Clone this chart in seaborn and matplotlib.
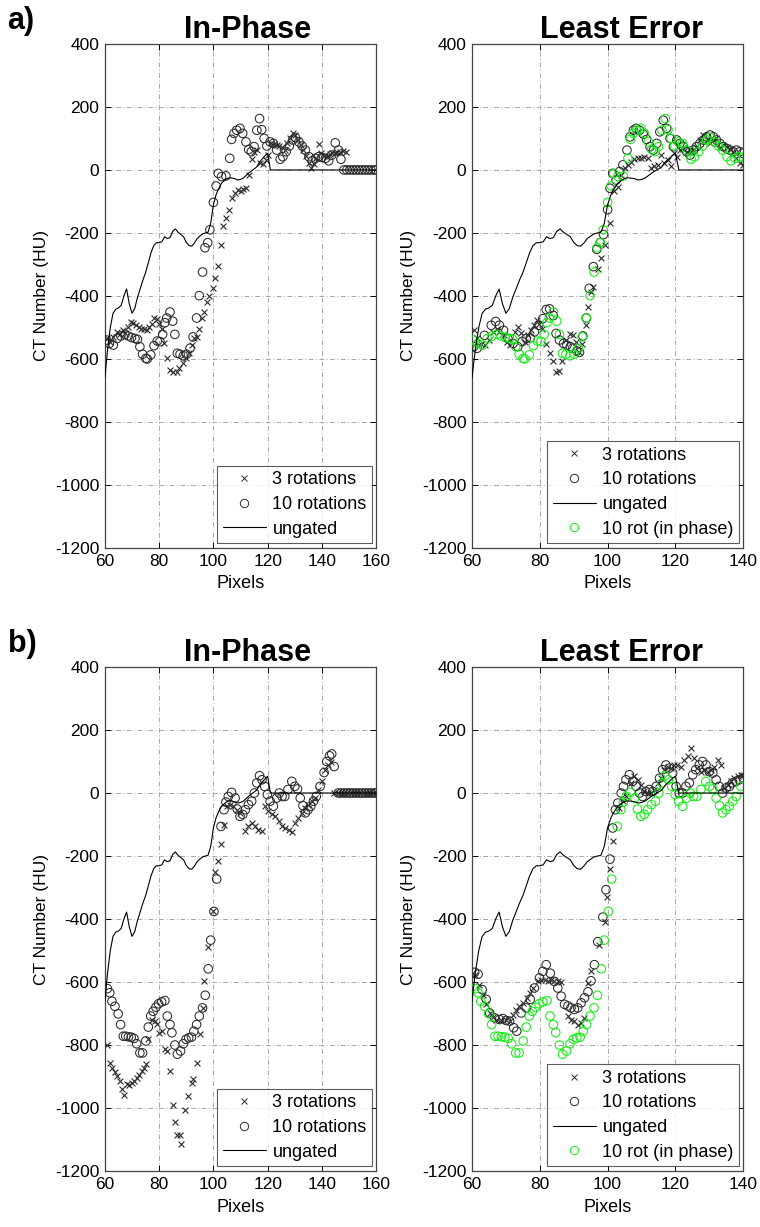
import matplotlib
matplotlib.use("Agg")
import matplotlib.pyplot as plt
import seaborn as sns
from matplotlib.lines import Line2D

sns.set_style("ticks")
plt.rcParams['font.family'] = ['Liberation Sans', 'DejaVu Sans']
plt.rcParams['axes.unicode_minus'] = False
plt.rcParams['text.color'] = 'black'
plt.rcParams['axes.labelcolor'] = 'black'
plt.rcParams['xtick.color'] = 'black'
plt.rcParams['ytick.color'] = 'black'

# ---------------- ungated reference line (shared) ----------------
ung_x = list(range(60, 161))
ung_y = [-660, -570, -500, -455, -442, -438, -430, -400, -378, -425,
         -455, -440, -405, -378, -350, -326, -295, -263, -240, -231,
         -231, -228, -212, -218, -215, -195, -187, -198, -205, -212,
         -230, -240, -242, -232, -218, -210, -203, -200, -198, -170,
         -110, -78, -58, -42, -34, -27, -25, -26, -28, -32,
         -30, -26, -18, -10, -3, 3, 10, 25, 35, 45,
         53, 0, 0, 0, 0, 0, 0, 0, 0, 0,
         0, 0, 0, 0, 0, 0, 0, 0, 0, 0,
         0, 0, 0, 0, 0, 0, 0, 0, 0, 0,
         0, 0, 0, 0, 0, 0, 0, 0, 0, 0,
         0]

# ---------------- a) In-Phase ----------------
aL_x3 = [60.6, 61.8, 63.1, 64.3, 65.5, 66.5, 67.4, 68.6, 69.5, 70.5,
         71.4, 72.4, 73.4, 74.4, 75.4, 76.4, 77.3, 78.2, 79.1, 80.0,
         80.9, 81.9, 82.8, 84.0, 85.2, 86.4, 87.4, 88.7, 89.9, 90.9,
         92.0, 92.8, 93.8, 94.8, 95.8, 96.7, 97.5, 98.5, 99.7, 100.7,
         101.7, 102.8, 103.7, 104.6, 105.9, 106.9, 108.0, 109.0, 110.0, 111.0,
         112.0, 113.0, 114.1, 115.1, 116.2, 117.2, 118.2, 119.2, 120.3, 121.3,
         122.4, 123.3, 124.3, 125.3, 126.3, 127.3, 128.3, 129.3, 130.2, 131.2,
         132.2, 133.2, 134.2, 135.2, 136.1, 136.9, 137.9, 138.8, 139.8, 140.8,
         141.8, 142.8, 143.8, 144.7, 145.7, 146.7, 147.7, 148.7]
aL_y3 = [-535, -545, -530, -514, -522, -509, -519, -498, -483, -485,
         -493, -498, -504, -506, -509, -498, -488, -470, -472, -488,
         -504, -550, -596, -634, -640, -642, -629, -614, -598, -582,
         -556, -535, -530, -504, -470, -451, -418, -401, -376, -344,
         -305, -237, -179, -153, -126, -89, -72, -63, -68, -61,
         -58, -16, 34, 58, 63, 23, 19, 32, 47, 84,
         82, 79, 76, 72, 63, 84, 100, 116, 111, 95,
         79, 63, 44, 23, 5, 19, 37, 82, 53, 44,
         42, 50, 53, 55, 57, 58, 60, 58]

aL_x10 = [60.6, 61.6, 63.1, 64.5, 65.9, 67.4, 68.6, 69.8, 71.1, 72.0,
          72.9, 73.9, 75.1, 75.6, 76.9, 78.1, 79.3, 80.3, 81.3, 82.1,
          82.8, 84.0, 85.0, 85.8, 86.7, 87.7, 88.9, 90.1, 91.4, 92.5,
          93.8, 94.8, 96.0, 96.9, 97.9, 98.7, 100.0, 101.0, 101.8, 103.0,
          104.6, 106.0, 106.7, 107.6, 108.6, 109.8, 110.8, 112.0, 113.0, 114.0,
          115.0, 116.0, 117.0, 117.8, 118.7, 119.7, 120.9, 122.1, 123.3, 124.6,
          125.6, 126.8, 128.0, 129.2, 130.2, 131.5, 132.7, 133.9, 135.2, 136.4,
          137.6, 138.8, 140.0, 141.3, 142.5, 143.6, 144.9, 146.1, 147.0, 148.1,
          149.2, 150.3, 151.4, 152.5, 153.6, 154.7, 155.8, 156.9, 158.0, 159.1,
          160.0]
aL_y10 = [-540, -551, -556, -535, -527, -522, -527, -532, -535, -538,
          -561, -585, -598, -600, -587, -558, -543, -545, -522, -485,
          -470, -451, -480, -522, -582, -585, -590, -585, -566, -530,
          -470, -399, -324, -247, -231, -190, -103, -51, -11, -21,
          -19, 37, 97, 116, 126, 132, 116, 89, 65, 58,
          74, 126, 163, 128, 100, 76, 89, 84, 63, 34,
          42, 58, 76, 95, 103, 89, 76, 63, 42, 29,
          37, 42, 40, 37, 29, 47, 86, 63, 34, 0,
          0, 0, 0, 0, 0, 0, 0, 0, 0, 0,
          0]

# ---------------- a) Least Error ----------------
aR_x3 = [60.6, 61.5, 62.7, 63.7, 65.0, 66.2, 67.4, 68.1, 69.3, 70.3,
         71.3, 72.6, 73.5, 74.5, 75.5, 76.5, 77.5, 78.4, 79.1, 79.9,
         80.7, 81.7, 82.9, 83.8, 84.8, 85.6, 86.6, 87.6, 88.8, 89.7,
         90.7, 91.7, 92.5, 93.5, 94.2, 95.1, 95.8, 97.1, 98.1, 99.1,
         100.7, 102.0, 103.0, 104.0, 105.0, 106.0, 106.9, 107.9, 108.9, 109.9,
         110.8, 111.8, 112.8, 113.8, 114.8, 115.7, 116.7, 117.7, 118.7, 119.7,
         120.4, 121.3, 122.3, 123.3, 124.3, 125.3, 126.2, 127.2, 128.2, 129.2,
         130.2, 131.2, 132.1, 133.1, 134.1, 135.1, 136.1, 137.0, 138.0, 139.0,
         139.8]
aR_y3 = [-509, -535, -551, -556, -540, -514, -504, -514, -525, -545,
         -556, -514, -498, -519, -545, -525, -509, -493, -477, -488,
         -504, -551, -582, -608, -642, -638, -608, -540, -522, -525,
         -545, -577, -551, -493, -436, -388, -373, -315, -279, -237,
         -168, -68, -53, -16, 5, 16, 26, 34, 37, 37,
         42, 37, 5, 11, 16, 47, 21, 32, 11, 53,
         40, 63, 68, 58, 63, 63, 74, 95, 111, 95,
         84, 95, 100, 74, 79, 74, 68, 58, 37, 21,
         16]

aR_x10 = [60.5, 61.5, 63.7, 65.7, 67.0, 68.1, 69.3, 70.6, 72.1, 73.5,
          74.8, 76.0, 77.2, 78.4, 79.7, 80.9, 81.9, 82.9, 84.0, 84.8,
          85.8, 87.0, 88.0, 89.0, 89.7, 90.9, 91.7, 92.7, 93.7, 94.6,
          95.8, 96.8, 97.8, 98.8, 100.0, 100.7, 101.5, 102.5, 103.5, 104.5,
          105.7, 106.6, 107.6, 108.4, 109.4, 110.5, 111.5, 112.5, 113.5, 114.5,
          115.4, 116.4, 117.4, 118.4, 119.4, 120.4, 121.3, 122.3, 123.3, 124.3,
          125.3, 126.2, 127.2, 128.2, 129.2, 130.2, 131.2, 132.1, 133.1, 134.1,
          135.1, 136.1, 137.0, 138.0, 139.0, 139.8]
aR_y10 = [-561, -566, -525, -493, -481, -493, -509, -535, -551, -561,
          -545, -535, -533, -514, -493, -472, -443, -441, -462, -519,
          -540, -551, -556, -561, -566, -575, -579, -527, -470, -376,
          -307, -252, -231, -205, -126, -58, -11, -32, -5, 16,
          63, 105, 126, 132, 126, 114, 97, 74, 63, 84,
          121, 158, 132, 100, 74, 95, 84, 74, 58, 47,
          63, 74, 84, 95, 105, 111, 105, 95, 84, 74,
          68, 63, 58, 63, 58, 53]

# ---------------- b) In-Phase ----------------
bL_x3 = [60.6, 61.8, 62.8, 63.7, 64.6, 65.5, 66.3, 67.0, 68.0, 69.0,
         70.0, 70.7, 71.7, 72.7, 73.5, 74.4, 75.1, 76.0, 77.2, 78.4,
         79.1, 80.0, 80.9, 82.1, 83.0, 84.0, 85.0, 86.0, 86.7, 87.7,
         88.1, 89.6, 90.8, 92.0, 92.6, 93.8, 95.1, 96.0, 96.5, 98.1,
         99.7, 100.6, 101.7, 102.8, 103.8, 104.9, 106.1, 107.4, 108.6, 109.8,
         111.7, 112.9, 114.1, 115.4, 116.6, 117.8, 119.0, 120.3, 121.5, 122.7,
         124.0, 125.2, 126.4, 127.7, 128.9, 130.1, 131.3, 132.6, 133.8, 135.0,
         136.3, 137.5, 138.7, 140.0, 141.2, 142.4, 143.4, 144.6, 145.8, 147.0,
         148.2, 149.4, 150.6, 151.8, 153.0, 154.2, 155.4, 156.6, 157.8, 159.0,
         160.0]
bL_y3 = [-800, -856, -872, -887, -898, -914, -940, -958, -924, -926,
         -919, -914, -905, -895, -882, -872, -859, -782, -719, -724,
         -733, -761, -756, -814, -819, -882, -990, -1045, -1087, -1087,
         -1114, -1006, -961, -919, -908, -856, -766, -682, -598, -488,
         -376, -252, -216, -163, -100, -42, -37, -42, -53, -63,
         -121, -105, -95, -105, -116, -121, -42, -58, -68, -74,
         -89, -105, -111, -116, -124, -95, -79, -63, -47, -37,
         -26, -16, 11, 37, 74, 89, 100, 0, 0, 0,
         0, 0, 0, 0, 0, 0, 0, 0, 0, 0,
         0]

bL_x10 = [60.9, 61.8, 62.6, 63.7, 64.9, 65.8, 66.8, 67.7, 68.7, 69.7,
          70.7, 71.7, 72.9, 73.9, 75.1, 76.0, 76.9, 77.8, 78.8, 79.8,
          80.9, 82.1, 83.0, 84.0, 84.7, 85.8, 86.7, 87.9, 88.9, 89.9,
          90.9, 91.9, 92.8, 93.8, 94.8, 96.0, 97.0, 98.1, 99.0, 100.2,
          101.2, 102.8, 103.9, 104.6, 105.5, 106.7, 108.0, 108.8, 109.8, 110.8,
          111.8, 112.9, 114.1, 115.1, 116.0, 117.0, 117.9, 118.9, 119.9, 120.9,
          122.1, 123.3, 124.3, 125.3, 126.3, 127.5, 128.9, 130.0, 131.0, 132.0,
          133.0, 133.9, 134.9, 135.9, 136.9, 137.9, 139.3, 140.8, 141.8, 142.8,
          143.6, 144.5, 146.0, 147.1, 148.2, 149.3, 150.4, 151.5, 152.6, 153.7,
          154.8, 155.9, 157.0, 158.1, 159.2, 160.0]
bL_y10 = [-621, -634, -661, -677, -701, -735, -772, -772, -774, -775,
          -779, -796, -825, -825, -787, -743, -708, -693, -680, -669,
          -663, -659, -708, -735, -761, -800, -829, -819, -796, -782,
          -777, -775, -756, -735, -708, -682, -642, -558, -467, -376,
          -273, -106, -53, -29, -11, 2, -16, -51, -74, -68,
          -53, -37, -26, 0, 32, 55, 42, 21, -5, -26,
          -42, -16, 0, -11, -11, 11, 37, 21, 13, -16,
          -40, -63, -53, -42, -26, -11, 21, 65, 100, 118,
          124, 84, 0, 0, 0, 0, 0, 0, 0, 0,
          0, 0, 0, 0, 0, 0]

# ---------------- b) Least Error ----------------
bR_x3 = [60.8, 62.0, 63.2, 64.2, 65.2, 66.2, 67.2, 68.6, 70.1, 71.1,
         72.1, 73.1, 74.0, 75.0, 76.2, 77.2, 78.0, 79.4, 80.4, 81.4,
         82.4, 83.4, 84.3, 85.3, 86.3, 88.3, 89.2, 90.2, 91.2, 92.2,
         92.9, 94.2, 95.1, 97.6, 99.1, 99.7, 100.7, 101.7, 103.5, 104.5,
         105.4, 106.9, 107.9, 108.9, 109.9, 110.8, 111.8, 112.8, 113.8, 114.8,
         115.7, 116.7, 117.7, 118.7, 119.7, 120.6, 121.6, 122.6, 123.6, 124.6,
         125.6, 126.5, 127.5, 128.5, 129.5, 130.5, 131.4, 132.4, 133.4, 134.4,
         135.4, 136.4, 137.3, 138.3, 139.3, 140.0]
bR_y3 = [-577, -610, -640, -671, -698, -712, -719, -722, -719, -724,
         -705, -690, -677, -666, -651, -635, -619, -598, -593, -593,
         -596, -593, -596, -598, -600, -708, -719, -724, -735, -729,
         -714, -603, -566, -483, -409, -331, -242, -153, -47, -26,
         -11, 32, 53, 42, 26, 5, 0, 0, 11, 32,
         47, 74, 84, 79, 89, 89, 84, 105, 116, 142,
         111, 79, 68, 74, 68, 74, 84, 105, 89, 16,
         26, 37, 47, 55, 58, 58]

bR_x10 = [60.8, 61.8, 63.0, 64.2, 65.2, 66.7, 68.1, 69.1, 70.1, 71.1,
          72.3, 73.2, 74.5, 76.0, 77.2, 78.4, 79.9, 80.9, 81.9, 83.1,
          84.3, 85.3, 86.3, 87.3, 88.3, 89.2, 90.2, 91.2, 92.2, 93.2,
          94.2, 95.1, 96.1, 97.1, 98.6, 99.5, 100.7, 101.5, 102.3, 103.0,
          104.0, 104.7, 105.4, 106.4, 107.4, 108.4, 109.4, 110.3, 111.3, 112.3,
          113.3, 114.3, 115.3, 116.2, 117.2, 118.2, 119.2, 120.2, 121.1, 122.1,
          123.1, 124.1, 125.1, 126.0, 127.0, 128.0, 129.0, 130.0, 131.0, 132.0,
          132.9, 133.9, 134.9, 135.9, 136.8, 137.8, 138.8, 140.0]
bR_y10 = [-569, -575, -624, -655, -698, -714, -719, -716, -722, -724,
          -745, -756, -698, -682, -655, -619, -587, -566, -545, -572,
          -598, -619, -645, -671, -676, -682, -687, -682, -666, -650,
          -631, -596, -545, -472, -394, -307, -210, -111, -53, -32,
          0, 21, 42, 58, 37, 21, 0, -11, 5, 11,
          5, 21, 47, 74, 89, 79, 63, 21, 0, 0,
          21, 32, 58, 74, 89, 100, 89, 68, 63, 42,
          21, 0, 16, 21, 32, 37, 42, 47]

y_ticks = [-1200, -1000, -800, -600, -400, -200, 0, 200, 400]

DARK = '#2a2a2a'
GREEN = '#11ee11'
GRIDC = '#a8a8a8'

fig = plt.figure(figsize=(7.6, 12.27), dpi=100)
W = 0.357
H = 0.4108
axA = fig.add_axes([0.138, 0.5534, W, H])
axB = fig.add_axes([0.621, 0.5534, W, H])
axC = fig.add_axes([0.138, 0.0456, W, H])
axD = fig.add_axes([0.621, 0.0456, W, H])


def circles(ax, x, y, color, xmax):
    pts = [(a, b) for a, b in zip(x, y) if a <= xmax + 0.5]
    xs = [p[0] for p in pts]
    ys = [p[1] for p in pts]
    sns.scatterplot(x=xs, y=ys, marker='o', s=38, ax=ax, legend=False,
                    zorder=3)
    coll = ax.collections[-1]
    coll.set_facecolor('none')
    coll.set_edgecolor(color)
    coll.set_linewidth(0.75)


def crosses(ax, x, y):
    sns.scatterplot(x=x, y=y, marker='x', s=18, color=DARK, linewidth=0.8,
                    ax=ax, legend=False, zorder=3)


def panel(ax, title, xmax, x3, y3, x10, y10, green=None, tx=0.52):
    crosses(ax, x3, y3)
    circles(ax, x10, y10, DARK, xmax)
    sns.lineplot(x=ung_x, y=ung_y, color='black', linewidth=0.8, ax=ax,
                 estimator=None, sort=False, legend=False, zorder=4)
    if green is not None:
        circles(ax, green[0], green[1], GREEN, xmax)
    ax.set_xlim(60, xmax)
    ax.set_ylim(-1200, 400)
    ax.set_xticks(list(range(60, xmax + 1, 20)))
    ax.set_yticks(y_ticks)
    ax.set_axisbelow(True)
    ax.grid(True, linestyle=(0, (5, 2.5, 1, 2.5)), color=GRIDC, linewidth=0.7)
    ax.tick_params(direction='in', top=True, right=True, length=4,
                   width=0.7, labelsize=12.5, pad=4, colors='black')
    for sp in ax.spines.values():
        sp.set_color('#444444')
        sp.set_linewidth(0.9)
    ax.set_xlabel('Pixels', fontsize=13, labelpad=5)
    ax.set_ylabel('CT Number (HU)', fontsize=12.5, labelpad=4)
    ax.set_title(title, fontsize=22, fontweight='bold', pad=4,
                 color='black', x=tx)

    handles = [Line2D([], [], ls='none', marker='x', color=DARK,
                      markersize=4.5, markeredgewidth=0.7),
               Line2D([], [], ls='none', marker='o', mfc='none', mec=DARK,
                      markersize=6, markeredgewidth=0.7),
               Line2D([], [], color='black', lw=0.8)]
    labels = ['3 rotations', '10 rotations', 'ungated']
    if green is not None:
        handles.append(Line2D([], [], ls='none', marker='o', mfc='none',
                              mec=GREEN, markersize=6, markeredgewidth=0.7))
        labels.append('10 rot (in phase)')
    leg = ax.legend(handles, labels, loc='lower right',
                    bbox_to_anchor=(0.985, 0.01), borderaxespad=0,
                    frameon=True, fancybox=False, fontsize=13,
                    handlelength=2.4, handletextpad=0.35, labelspacing=0.42,
                    borderpad=0.3)
    leg.get_frame().set_edgecolor('#333333')
    leg.get_frame().set_linewidth(0.8)


panel(axA, 'In-Phase', 160, aL_x3, aL_y3, aL_x10, aL_y10, tx=0.525)
panel(axB, 'Least Error', 140, aR_x3, aR_y3, aR_x10, aR_y10,
      green=(aL_x10, aL_y10), tx=0.55)
panel(axC, 'In-Phase', 160, bL_x3, bL_y3, bL_x10, bL_y10, tx=0.525)
panel(axD, 'Least Error', 140, bR_x3, bR_y3, bR_x10, bR_y10,
      green=(bL_x10, bL_y10), tx=0.55)

fig.text(0.01, 0.995, 'a)', fontsize=22, fontweight='bold', va='top', ha='left')
fig.text(0.01, 0.487, 'b)', fontsize=22, fontweight='bold', va='top', ha='left')

fig.savefig('out.png', dpi=100)
